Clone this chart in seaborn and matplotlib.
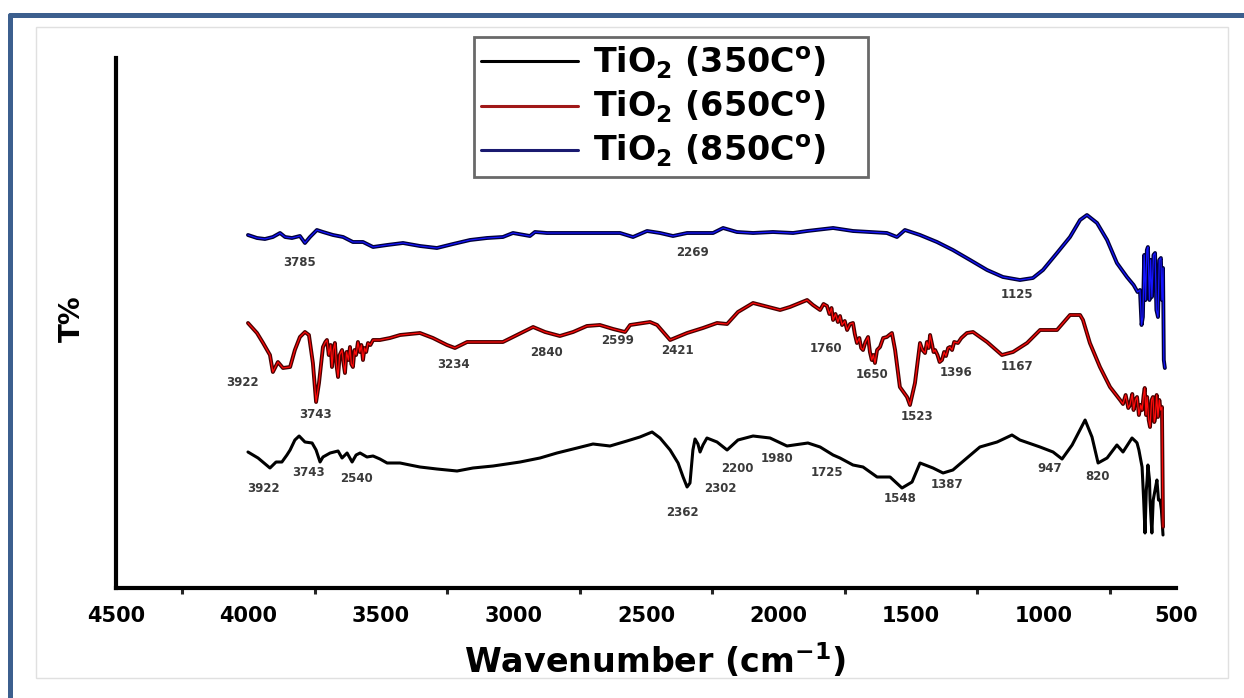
import numpy as np
import pandas as pd
import seaborn as sns
import matplotlib
matplotlib.use("Agg")
import matplotlib.pyplot as plt
import matplotlib.patheffects as pe
from matplotlib.lines import Line2D
from matplotlib.patches import Rectangle

# ---------------- data ----------------
series_names = ["TiO$_2$ (350C$^{o}$)", "TiO$_2$ (650C$^{o}$)", "TiO$_2$ (850C$^{o}$)"]

w350 = [4002, 3964, 3919, 3896, 3874, 3855, 3843, 3825, 3809, 3787, 3760, 3745, 3730, 3719,
        3692, 3662, 3647, 3628, 3609, 3594, 3579, 3553, 3530, 3504, 3477, 3428, 3391, 3353,
        3289, 3213, 3153, 3077, 2975, 2900, 2836, 2760, 2700, 2636, 2572, 2523, 2477, 2447,
        2409, 2379, 2360, 2345, 2334, 2323, 2315, 2304, 2296, 2285, 2270, 2232, 2194, 2153,
        2096, 2032, 1968, 1889, 1843, 1794, 1768, 1719, 1681, 1628, 1579, 1534, 1496, 1466,
        1417, 1379, 1342, 1289, 1240, 1175, 1119, 1089, 1013, 964, 930, 892, 843, 817, 794,
        760, 723, 700, 666, 650, 647, 640, 633, 628, 622, 617, 612, 609, 606, 600, 598, 594,
        591, 586, 579, 572, 566, 560, 555, 549]
t350 = [148, 142, 132, 138, 138, 145, 150, 160, 164, 158, 157, 150, 138, 143,
        147, 149, 142, 147, 138, 145, 147, 143, 144, 141, 137, 137, 135, 133,
        131, 129, 132, 134, 138, 142, 147, 152, 156, 154, 159, 163, 168, 162,
        150, 137, 123, 113, 117, 150, 161, 156, 148, 155, 162, 158, 150, 160,
        164, 162, 154, 157, 153, 145, 142, 135, 133, 123, 123, 112, 118, 137,
        132, 127, 130, 142, 153, 158, 165, 160, 153, 148, 141, 155, 180, 163, 137,
        142, 155, 148, 162, 158, 157, 150, 140, 133, 100, 67, 110, 120, 135, 120, 100, 80,
        67, 100, 110, 120, 100, 100, 90, 65]

w650 = [4002, 3968, 3945, 3919, 3908, 3889, 3870, 3843, 3825, 3806, 3787, 3772, 3757, 3745,
        3734, 3719, 3710, 3704, 3697, 3690, 3685, 3680, 3674, 3668, 3662, 3656, 3647, 3642,
        3636, 3630, 3623, 3617, 3612, 3606, 3600, 3594, 3587, 3580, 3574, 3568, 3562, 3556,
        3549, 3540, 3530, 3504, 3466, 3428, 3353, 3304, 3251, 3221, 3175, 3100, 3040, 3002,
        2964, 2926, 2881, 2825, 2775, 2723, 2674, 2624, 2579, 2560, 2485, 2458, 2409, 2345,
        2285, 2232, 2194, 2153, 2096, 1994, 1957, 1892, 1870, 1843, 1830, 1817, 1808, 1800,
        1794, 1785, 1776, 1768, 1760, 1750, 1741, 1730, 1719, 1712, 1704, 1695, 1688, 1681,
        1672, 1662, 1655, 1648, 1642, 1636, 1628, 1617, 1605, 1591, 1582, 1572, 1560, 1542,
        1515, 1504, 1485, 1466, 1457, 1447, 1440, 1433, 1428, 1420, 1415, 1409, 1400, 1392,
        1383, 1375, 1368, 1360, 1353, 1345, 1337, 1323, 1310, 1289, 1266, 1213, 1157, 1115,
        1062, 1013, 949, 900, 862, 851, 825, 787, 749, 711, 700, 690, 680, 674, 665, 660,
        653, 647, 640, 633, 628, 622, 618, 613, 609, 603, 598, 592, 587, 582, 578, 573, 568,
        563, 558, 553, 549]
t650 = [277, 267, 257, 245, 228, 238, 232, 233, 250, 263, 268, 265, 237, 198,
        217, 253, 258, 260, 245, 255, 233, 250, 257, 235, 223, 245, 250, 238,
        227, 248, 240, 253, 236, 233, 250, 245, 258, 248, 255, 240, 252, 248,
        257, 255, 260, 260, 262, 265, 267, 262, 255, 252, 258, 258, 258, 263,
        268, 273, 268, 264, 268, 274, 275, 271, 268, 275, 278, 275, 260, 267,
        272, 277, 276, 288, 297, 290, 293, 300, 295, 290, 296, 294, 286, 292,
        280, 286, 278, 284, 275, 279, 270, 276, 277, 266, 257, 262, 252, 250,
        258, 263, 248, 240, 245, 237, 250, 253, 262, 263, 265, 267, 250, 213,
        203, 195, 217, 257, 250, 247, 258, 252, 265, 255, 248, 250, 245, 238,
        240, 248, 244, 252, 253, 250, 258, 257, 262, 267, 268, 258, 245, 248,
        257, 270, 270, 285, 285, 280, 257, 233, 213, 200, 196, 205, 192, 195, 206, 190,
        200, 203, 185, 195, 190, 205, 212, 185, 203, 180, 173, 200, 203, 178, 183, 205, 183,
        200, 190, 193, 73]

w850 = [4002, 3968, 3938, 3908, 3881, 3862, 3836, 3806, 3787, 3768, 3742, 3719, 3681, 3643,
        3606, 3568, 3530, 3477, 3417, 3353, 3289, 3228, 3164, 3100, 3040, 3002, 2938, 2919,
        2874, 2787, 2723, 2662, 2598, 2549, 2496, 2447, 2398, 2345, 2285, 2247, 2209, 2157,
        2096, 2021, 1945, 1892, 1794, 1719, 1655, 1591, 1553, 1523, 1466, 1402, 1342, 1277,
        1213, 1153, 1089, 1040, 1002, 949, 900, 862, 836, 798, 760, 723, 685, 660, 645, 636,
        630, 625, 620, 615, 610, 606, 600, 596, 591, 585, 579, 574, 568, 563, 557, 553, 549,
        546, 542]
t850 = [365, 362, 361, 363, 367, 363, 362, 364, 357, 363, 370, 368, 365, 363,
        358, 358, 353, 355, 357, 354, 352, 356, 360, 362, 363, 367, 364, 368,
        367, 367, 367, 367, 367, 363, 369, 367, 364, 367, 367, 367, 372, 368,
        367, 368, 367, 369, 372, 369, 368, 367, 363, 370, 365, 358, 350, 340,
        330, 323, 320, 322, 330, 347, 363, 380, 385, 377, 360, 337, 323, 315, 308, 310,
        275, 283, 345, 300, 350, 353, 300, 340, 303, 345, 347, 290, 283, 340, 342, 300, 332,
        240, 232]

# peak annotations: label, wavenumber, level
ann_labels = ["3785", "2269", "1125",
              "3922", "3743", "3234", "2840", "2599", "2421", "1760", "1650", "1523", "1396", "1167",
              "3922", "3743", "2540", "2362", "2302", "2200", "1980", "1725", "1548", "1387", "947", "820"]
ann_w = [3806, 2323, 1100,
         4021, 3749, 3228, 2877, 2606, 2383, 1821, 1647, 1477, 1330, 1100,
         3945, 3775, 3591, 2364, 2221, 2157, 2006, 1817, 1542, 1364, 975, 798]
ann_t = [337, 348, 305,
         217, 185, 235, 248, 260, 250, 251, 226, 183, 228, 234,
         111, 127, 121, 87, 111, 131, 141, 127, 102, 115, 132, 123]

x_ticks = [4500, 4000, 3500, 3000, 2500, 2000, 1500, 1000, 500]
x_label = "Wavenumber (cm$^{-1}$)"
y_label = "T%"

# ---------------- figure ----------------
sns.set_theme(style="white")
plt.rcParams["font.family"] = ["DejaVu Sans"]
plt.rcParams["mathtext.default"] = "bf"
plt.rcParams["font.weight"] = "bold"
plt.rcParams["text.color"] = "black"
plt.rcParams["axes.labelcolor"] = "black"

W, H = 1244, 698
fig = plt.figure(figsize=(W / 100, H / 100), dpi=100)
fig.patch.set_facecolor("white")

# decorative frames
fig.add_artist(Line2D([10 / W, 1.0], [1 - 15 / H, 1 - 15 / H], color="#3c5f8e", lw=3.6,
                      transform=fig.transFigure))
fig.add_artist(Line2D([10 / W, 10 / W], [0.0, 1 - 15 / H], color="#3c5f8e", lw=3.6,
                      transform=fig.transFigure))
fig.add_artist(Rectangle((36 / W, 1 - 678 / H), (1228 - 36) / W, (678 - 27) / H,
                         transform=fig.transFigure, fill=False, ec="#e0e0e0", lw=1.0))

ax = fig.add_axes([116 / W, 1 - 588 / H, 1060 / W, 530 / H])
ax.set_facecolor("none")

frames = [(w350, t350, series_names[0]), (w650, t650, series_names[1]), (w850, t850, series_names[2])]
colors = ["black", "#ff0a0a", "#1515ff"]
edge = [None, "#4a0000", "#00003a"]
for (w, t, name), c, ec in zip(frames, colors, edge):
    df = pd.DataFrame({"w": w, "t": t})
    sns.lineplot(data=df, x="w", y="t", sort=False, estimator=None, color=c,
                 lw=2.2 if ec is None else 0.9, ax=ax, label=name)
    if ec is not None:
        ax.lines[-1].set_path_effects([pe.Stroke(linewidth=2.8, foreground=ec), pe.Normal()])

for lab, w, t in zip(ann_labels, ann_w, ann_t):
    ax.text(w, t, lab, ha="center", va="center", fontsize=8.5, fontweight="bold", color="#3a3a3a")

ax.set_xlim(4500, 500)
ax.set_ylim(12, 542)
ax.set_xticks(x_ticks)
ax.set_xticks(np.arange(4250, 500, -500), minor=True)
ax.set_yticks([])
ax.tick_params(axis="x", which="major", length=8, width=2.5, direction="out",
               labelsize=15, pad=5, colors="black")
ax.tick_params(axis="x", which="minor", length=4, width=2.2, direction="out", bottom=True)
for lbl in ax.get_xticklabels():
    lbl.set_fontweight("bold")

for s in ["top", "right"]:
    ax.spines[s].set_visible(False)
for s in ["left", "bottom"]:
    ax.spines[s].set_linewidth(3.0)
    ax.spines[s].set_color("black")

ax.set_xlabel(x_label, fontsize=24, fontweight="bold")
ax.xaxis.set_label_coords(0.5085, -0.10)
ax.set_ylabel(y_label, fontsize=20, fontweight="bold")
ax.yaxis.set_label_coords(-0.028, 0.509)

handles, labels = ax.get_legend_handles_labels()
leg = fig.legend(handles, labels, loc="upper left", mode="expand",
                 bbox_to_anchor=(474 / W, 1 - 177 / H, 394 / W, 140 / H),
                 frameon=True, fancybox=False,
                 fontsize=24, handlelength=2.9, handletextpad=0.45, labelspacing=0.24,
                 borderpad=0.22, borderaxespad=0.0)
leg.get_frame().set_edgecolor("#444444")
leg.get_frame().set_linewidth(2.0)
for t in leg.get_texts():
    t.set_fontweight("bold")
    t.set_color("black")
for h, c in zip(leg.get_lines(), ["black", "#a01818", "#1a1a70"]):
    h.set_linewidth(2.2)
    h.set_path_effects([])
    h.set_color(c)
if ax.get_legend():
    ax.get_legend().remove()

fig.savefig("out.png", dpi=100, facecolor="white")
